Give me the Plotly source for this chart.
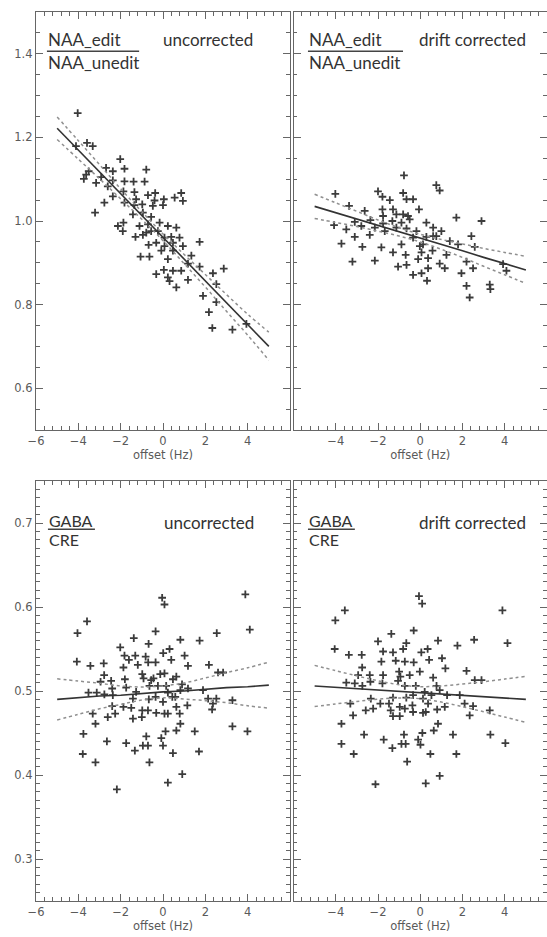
import plotly.graph_objects as go

# ---------------- data ----------------
# top-left: NAA_edit / NAA_unedit, uncorrected
tl_offset = [-4.03, -4.11, -3.59, -3.32, -2.02, -2.69, -1.82, -0.79, -3.51, -3.74, -2.92, -2.37, -1.82,
             -1.39, -0.87, -3.16, -2.61, -1.87, -1.35, -0.71, -0.37, 0.04, 0.86, 0.94, -2.37, -2.77,
             -1.82, -1.35, -0.98, -0.40, 0.00, -3.21, -1.42, -0.95, -0.56, -2.13, -1.87, -1.11, -0.71,
             0.23, 0.63, -0.24, -1.30, -0.95, 0.39, 0.78, 1.73, -0.68, -0.32, 0.07, 0.94, -0.08, 0.47,
             1.34, -1.06, -0.64, 0.23, 1.18, 1.73, 2.87, 0.04, 0.47, 0.86, -0.32, 0.23, 1.18, 2.36,
             0.31, 0.63, 2.52, 1.89, 2.52, 2.17, 3.94, 2.33, 3.28, -0.48, -1.27, 0.55, -0.56, 0.07,
             -0.79, -0.16, 0.47, -1.90, -2.37, -3.63]
tl_ratio = [1.258, 1.179, 1.187, 1.179, 1.148, 1.127, 1.125, 1.123, 1.119, 1.101, 1.105, 1.097, 1.095,
            1.094, 1.094, 1.091, 1.083, 1.071, 1.069, 1.062, 1.067, 1.052, 1.067, 1.048, 1.059, 1.044,
            1.044, 1.038, 1.040, 1.049, 1.038, 1.020, 1.016, 1.020, 1.010, 0.988, 0.996, 0.988, 0.992,
            0.988, 0.984, 0.976, 0.962, 0.967, 0.962, 0.960, 0.950, 0.943, 0.948, 0.940, 0.940, 0.929,
            0.929, 0.917, 0.915, 0.915, 0.909, 0.898, 0.891, 0.886, 0.883, 0.881, 0.881, 0.873, 0.865,
            0.859, 0.875, 0.856, 0.841, 0.849, 0.821, 0.806, 0.782, 0.754, 0.744, 0.740, 1.036, 1.052,
            1.056, 0.976, 0.960, 0.972, 0.996, 0.948, 0.976, 1.119, 1.111]

# top-right: NAA_edit / NAA_unedit, drift corrected
tr_offset = [-0.77, 0.76, 0.92, -4.02, -2.00, -1.79, -1.44, -0.81, -0.65, -0.34, -0.06, -3.37, -2.63,
             -1.79, -1.29, -1.13, -0.58, 1.71, 2.90, -4.08, -3.50, -3.10, -2.79, -2.36, -2.15, -1.76,
             -1.32, -0.89, -0.50, -1.68, -1.13, -0.65, -0.18, 0.29, 0.61, 1.00, -3.10, -2.39, -0.34,
             0.29, 0.76, 2.42, -3.73, -2.74, -1.84, -0.89, -0.02, 0.13, 1.40, 1.79, 2.58, -1.29, -0.69,
             0.06, 0.58, 1.24, -3.21, -2.15, -0.10, 0.37, 0.92, 2.19, 3.92, -1.05, -0.65, 0.37, 1.16,
             2.50, 0.06, -0.34, 1.95, 0.32, 2.19, 3.29, 3.32, 2.34, 4.08, -0.81, -1.76, 0.61]
tr_ratio = [1.109, 1.086, 1.073, 1.065, 1.071, 1.058, 1.050, 1.067, 1.052, 1.052, 1.028, 1.036, 1.024,
            1.028, 1.028, 1.016, 1.012, 1.008, 1.000, 0.990, 0.980, 0.998, 0.988, 1.002, 0.984, 0.994,
            1.000, 0.996, 1.004, 0.976, 0.984, 0.982, 0.976, 0.996, 0.984, 0.976, 0.962, 0.967, 0.960,
            0.962, 0.964, 0.964, 0.946, 0.938, 0.937, 0.944, 0.940, 0.944, 0.952, 0.944, 0.938, 0.925,
            0.919, 0.925, 0.929, 0.919, 0.903, 0.905, 0.909, 0.911, 0.898, 0.903, 0.897, 0.891, 0.895,
            0.887, 0.887, 0.887, 0.875, 0.871, 0.875, 0.857, 0.845, 0.848, 0.837, 0.817, 0.881, 1.016,
            1.012, 0.964]

# bottom-left: GABA / CRE, uncorrected
bl_offset = [-0.04, 0.07, 3.89, -3.59, -4.04, 4.10, -0.35, -1.38, 0.82, 1.73, 2.54, -2.02, -0.68, -4.07,
             -3.43, -2.80, -1.82, -1.61, -1.31, -0.82, -0.35, 0.01, 0.31, 0.39, 1.02, 1.18, 2.17, -1.87,
             -1.19, -0.70, 2.60, 2.84, -2.78, -2.95, -2.45, -2.40, -1.80, -1.74, -0.98, -0.92, -0.56,
             -0.45, -0.13, 0.07, 0.47, 0.63, 0.90, 1.18, -3.52, -3.13, -2.77, -2.37, -1.27, -0.64, -0.24,
             0.15, 0.23, 0.58, 0.82, 1.89, 2.13, 2.52, 3.28, -1.42, -0.67, -0.35, 0.00, 0.44, -2.40,
             -1.87, -1.50, -3.32, -2.61, -2.26, -1.42, -0.98, -0.71, -0.32, 0.07, 0.23, 0.79, 0.63, 1.15,
             2.32, 2.36, -1.00, 0.82, -3.19, -3.76, 3.28, 3.99, 1.50, 0.12, -0.79, -0.08, 0.63, -2.65,
             -1.74, -0.95, -0.71, 0.00, -3.79, -1.33, 0.47, 1.70, -3.19, -0.64, 0.91, 0.23, -2.18]
bl_ratio = [0.611, 0.603, 0.615, 0.583, 0.569, 0.573, 0.571, 0.563, 0.561, 0.560, 0.569, 0.552, 0.556,
            0.535, 0.530, 0.533, 0.542, 0.537, 0.542, 0.541, 0.534, 0.545, 0.550, 0.537, 0.542, 0.530,
            0.531, 0.528, 0.531, 0.534, 0.522, 0.522, 0.519, 0.511, 0.512, 0.503, 0.514, 0.504, 0.520,
            0.515, 0.513, 0.515, 0.520, 0.521, 0.514, 0.517, 0.508, 0.503, 0.498, 0.498, 0.496, 0.495,
            0.499, 0.506, 0.506, 0.506, 0.498, 0.493, 0.501, 0.501, 0.491, 0.491, 0.489, 0.491, 0.490,
            0.493, 0.487, 0.493, 0.482, 0.481, 0.480, 0.473, 0.469, 0.473, 0.467, 0.477, 0.477, 0.474,
            0.473, 0.473, 0.473, 0.481, 0.483, 0.478, 0.485, 0.469, 0.461, 0.461, 0.449, 0.458, 0.452,
            0.452, 0.452, 0.446, 0.444, 0.453, 0.440, 0.438, 0.435, 0.435, 0.435, 0.425, 0.429, 0.426,
            0.428, 0.415, 0.415, 0.401, 0.391, 0.383]

# bottom-right: GABA / CRE, drift corrected
br_offset = [-0.06, 0.09, -3.57, 3.89, -4.02, 4.13, -1.37, -0.31, 0.84, 1.76, 2.55, -2.00, -0.66, -4.05,
             -3.38, -2.77, -1.76, -1.29, -0.81, 0.05, 0.35, -1.84, -1.16, -0.73, -0.31, 0.42, 1.03, 1.19,
             2.19, -2.75, -2.94, -2.39, -2.36, -1.76, -1.00, -0.94, -0.50, -0.02, 0.61, 2.58, 2.90,
             -3.50, -3.10, -2.74, -1.79, -1.05, -0.73, -0.21, 0.21, 0.77, 0.92, 1.27, 1.87, -1.29, -0.66,
             -0.34, 0.13, 0.53, -2.34, -1.89, -1.48, -3.31, -2.58, -2.23, -1.40, -0.97, -0.73, -0.34,
             0.13, 0.26, 0.80, 1.16, 2.10, 2.50, 2.34, 3.29, -3.18, -1.29, -0.97, 0.84, -3.73, 0.64,
             0.10, -2.66, -1.73, -0.77, -0.10, 1.55, 3.32, 4.03, -3.73, -0.89, -0.69, 0.01, -1.32, -3.15,
             0.48, 1.71, -0.62, 0.92, 0.26, -2.12, -0.37, 0.37]
br_ratio = [0.613, 0.604, 0.596, 0.596, 0.584, 0.557, 0.568, 0.572, 0.560, 0.554, 0.561, 0.559, 0.557,
            0.550, 0.543, 0.543, 0.547, 0.546, 0.550, 0.546, 0.550, 0.535, 0.536, 0.535, 0.534, 0.537,
            0.539, 0.527, 0.524, 0.528, 0.519, 0.519, 0.511, 0.519, 0.523, 0.517, 0.519, 0.523, 0.516,
            0.513, 0.513, 0.510, 0.509, 0.506, 0.509, 0.512, 0.506, 0.506, 0.499, 0.506, 0.501, 0.495,
            0.495, 0.492, 0.492, 0.495, 0.491, 0.495, 0.491, 0.485, 0.485, 0.485, 0.477, 0.479, 0.477,
            0.481, 0.479, 0.475, 0.474, 0.475, 0.478, 0.481, 0.485, 0.482, 0.471, 0.477, 0.471, 0.470,
            0.470, 0.461, 0.461, 0.453, 0.450, 0.448, 0.442, 0.448, 0.442, 0.448, 0.448, 0.438, 0.437,
            0.437, 0.437, 0.436, 0.432, 0.425, 0.425, 0.425, 0.416, 0.399, 0.390, 0.389, 0.483, 0.485]

# regression lines and confidence bands read at these offsets
fit_x = [-5, -4, -3, -2, -1, 0, 1, 2, 3, 4, 5]
tl_fit = [1.222, 1.170, 1.118, 1.065, 1.013, 0.961, 0.909, 0.857, 0.804, 0.752, 0.700]
tl_upper = [1.249, 1.192, 1.135, 1.077, 1.022, 0.969, 0.920, 0.872, 0.824, 0.777, 0.734]
tl_lower = [1.195, 1.148, 1.101, 1.053, 1.004, 0.953, 0.898, 0.842, 0.784, 0.727, 0.667]
tr_fit = [1.035, 1.020, 1.005, 0.989, 0.974, 0.959, 0.944, 0.929, 0.913, 0.898, 0.883]
tr_upper = [1.064, 1.0435, 1.0232, 1.0024, 0.9839, 0.9682, 0.9558, 0.9452, 0.9344, 0.9248, 0.9154]
tr_lower = [1.006, 0.9965, 0.9868, 0.9756, 0.9641, 0.9498, 0.9322, 0.9128, 0.8916, 0.8712, 0.8506]
bl_fit = [0.490, 0.492, 0.494, 0.495, 0.497, 0.499, 0.500, 0.502, 0.504, 0.505, 0.507]
bl_upper = [0.5145, 0.5118, 0.5092, 0.506, 0.5048, 0.5062, 0.5096, 0.5155, 0.5219, 0.5276, 0.5344]
bl_lower = [0.4655, 0.4722, 0.4788, 0.484, 0.4892, 0.4918, 0.4904, 0.4885, 0.4861, 0.4824, 0.4796]
br_fit = [0.506, 0.5044, 0.5028, 0.5012, 0.4996, 0.498, 0.4964, 0.4948, 0.4932, 0.4916, 0.490]
br_upper = [0.5305, 0.5242, 0.518, 0.5122, 0.5074, 0.5052, 0.506, 0.5083, 0.5111, 0.5142, 0.5174]
br_lower = [0.4815, 0.4846, 0.4876, 0.4902, 0.4918, 0.4908, 0.4868, 0.4813, 0.4753, 0.469, 0.4626]

x_ticks_left = [-6, -4, -2, 0, 2, 4]
x_ticks_right = [-4, -2, 0, 2, 4, 6]
y_ticks_top = [0.6, 0.8, 1.0, 1.2, 1.4]
y_ticks_bottom = [0.3, 0.4, 0.5, 0.6, 0.7]
x_title = "offset (Hz)"
panel_labels = [("NAA_edit", "NAA_unedit", "uncorrected"),
                ("NAA_edit", "NAA_unedit", "drift corrected"),
                ("GABA", "CRE", "uncorrected"),
                ("GABA", "CRE", "drift corrected")]

# ---------------- figure ----------------
W, H = 547, 937
ML, MR, MT, MB = 36, 0, 12, 36
fig = go.Figure()

panels = [
    (tl_offset, tl_ratio, tl_fit, tl_upper, tl_lower, "x", "y"),
    (tr_offset, tr_ratio, tr_fit, tr_upper, tr_lower, "x2", "y2"),
    (bl_offset, bl_ratio, bl_fit, bl_upper, bl_lower, "x3", "y3"),
    (br_offset, br_ratio, br_fit, br_upper, br_lower, "x4", "y4"),
]
for xs, ys, fit, up, lo, xa, ya in panels:
    fig.add_trace(go.Scatter(x=xs, y=ys, mode="markers", xaxis=xa, yaxis=ya,
                             marker=dict(symbol="cross-thin", size=5.5, color="#1a1a1a",
                                         line=dict(width=1.8, color="#1a1a1a")),
                             opacity=0.85, showlegend=False, hoverinfo="skip"))
    for band in (up, lo):
        fig.add_trace(go.Scatter(x=fit_x, y=band, mode="lines", xaxis=xa, yaxis=ya,
                                 line=dict(color="#8f8f8f", width=1.5, dash="dot", shape="spline"),
                                 showlegend=False, hoverinfo="skip"))
    fig.add_trace(go.Scatter(x=fit_x, y=fit, mode="lines", xaxis=xa, yaxis=ya,
                             line=dict(color="#333", width=1.6),
                             showlegend=False, hoverinfo="skip"))

pw = W - ML - MR
ph = H - MT - MB
xdom_l = [0, 254 / pw]
xdom_r = [(293.5 - ML) / pw, 1]
ydom_t = [(901 - 430) / ph, 1]
ydom_b = [0, (901 - 481) / ph]

axfont = "DejaVu Sans, Liberation Sans, sans-serif"
tickfont = dict(family=axfont, size=11.5, color="#5a5a5a")
axcommon = dict(showline=True, linecolor="#666", linewidth=1.4, mirror="ticks",
                ticks="inside", ticklen=7, tickwidth=1.2, tickcolor="#666",
                showgrid=False, zeroline=False, tickfont=tickfont)


def xax(dom, tv, anchor):
    return dict(domain=dom, range=[-6, 6], tickvals=tv, anchor=anchor,
                minor=dict(dtick=0.4, tick0=-6, ticks="inside", ticklen=3.5, tickcolor="#666",
                           tickwidth=1, showgrid=False),
                title=dict(text=x_title, standoff=1,
                           font=dict(family=axfont, size=11.5, color="#5a5a5a")),
                **axcommon)


def yax(dom, rng, tv, anchor, labels, mdt):
    return dict(domain=dom, range=rng, tickvals=tv, anchor=anchor, showticklabels=labels,
                tickformat=".1f",
                minor=dict(dtick=mdt, tick0=0, ticks="inside", ticklen=3.5, tickcolor="#666",
                           tickwidth=1, showgrid=False),
                **axcommon)


fig.update_layout(
    width=W, height=H, autosize=False,
    margin=dict(l=ML, r=MR, t=MT, b=MB),
    paper_bgcolor="white", plot_bgcolor="white",
    xaxis=xax(xdom_l, x_ticks_left, "y"),
    yaxis=yax(ydom_t, [0.5, 1.5], y_ticks_top, "x", True, 0.05),
    xaxis2=xax(xdom_r, x_ticks_right, "y2"),
    yaxis2=yax(ydom_t, [0.5, 1.5], y_ticks_top, "x2", False, 0.05),
    xaxis3=xax(xdom_l, x_ticks_left, "y3"),
    yaxis3=yax(ydom_b, [0.25, 0.75], y_ticks_bottom, "x3", True, 0.01),
    xaxis4=xax(xdom_r, x_ticks_right, "y4"),
    yaxis4=yax(ydom_b, [0.25, 0.75], y_ticks_bottom, "x4", False, 0.01),
)

labfont = dict(family="Lato, Open Sans, sans-serif", size=17, color="#333")
gabafont = dict(family="Lato, Open Sans, sans-serif", size=16, color="#333")
# (xref, yref, num_x, num_y, line_x1, line_y, den_y, status_x, status_y, font)
placements = [
    ("x domain", "y domain", 0.043, 0.935, 0.406, 0.906, 0.878, 0.496, 0.935, labfont),
    ("x2 domain", "y2 domain", 0.057, 0.935, 0.432, 0.906, 0.878, 0.491, 0.935, labfont),
    ("x3 domain", "y3 domain", 0.047, 0.905, 0.232, 0.885, 0.860, 0.500, 0.902, gabafont),
    ("x4 domain", "y4 domain", 0.057, 0.905, 0.242, 0.885, 0.860, 0.491, 0.902, gabafont),
]
for (num, den, status), (xr, yr, nx, ny, lx1, ly, dy, sx, sy, f) in zip(panel_labels, placements):
    fig.add_annotation(text=num, xref=xr, yref=yr, x=nx, y=ny, xanchor="left", yanchor="middle",
                       showarrow=False, font=f, borderpad=0)
    fig.add_annotation(text=den, xref=xr, yref=yr, x=nx, y=dy, xanchor="left", yanchor="middle",
                       showarrow=False, font=f, borderpad=0)
    fig.add_annotation(text=status, xref=xr, yref=yr, x=sx, y=sy, xanchor="left", yanchor="middle",
                       showarrow=False, font=labfont, borderpad=0)
    fig.add_shape(type="line", xref=xr, yref=yr, x0=nx, x1=lx1, y0=ly, y1=ly,
                  line=dict(color="#444", width=1.5))

fig.write_html("out.html", config={"displayModeBar": False},
               post_script="document.body.style.margin='0';document.body.style.overflow='hidden';")
